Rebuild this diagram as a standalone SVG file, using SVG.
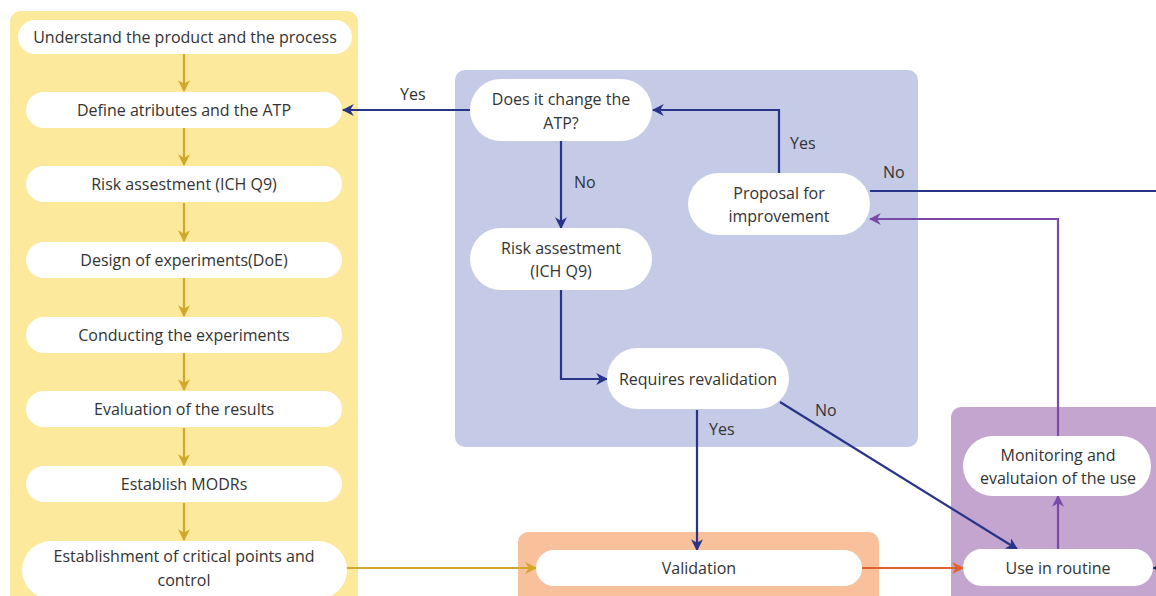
<svg xmlns="http://www.w3.org/2000/svg" width="1156" height="596" viewBox="0 0 1156 596">
<defs>
<style>
.node{fill:#ffffff}
.t{font-family:"Open Sans","Liberation Sans",sans-serif;font-size:16px;fill:#333333;text-anchor:middle}
.lbl{font-family:"Open Sans","Liberation Sans",sans-serif;font-size:16px;fill:#333333}
.gold{stroke:#D4A72C;stroke-width:2.2;fill:none}
.navy{stroke:#28338A;stroke-width:2.2;fill:none}
.purple{stroke:#7A4AAA;stroke-width:2.2;fill:none}
.orange{stroke:#E0612B;stroke-width:2.2;fill:none}
</style>
<marker id="aNavy" viewBox="0 0 10 10" refX="9" refY="5" markerWidth="12" markerHeight="12" orient="auto" markerUnits="userSpaceOnUse"><path d="M0,0 L10,5 L0,10 L3,5 z" fill="#28338A"/></marker>
<marker id="aPurple" viewBox="0 0 10 10" refX="9" refY="5" markerWidth="12" markerHeight="12" orient="auto" markerUnits="userSpaceOnUse"><path d="M0,0 L10,5 L0,10 L3,5 z" fill="#7A4AAA"/></marker>
<marker id="aOrange" viewBox="0 0 10 10" refX="9" refY="5" markerWidth="12" markerHeight="12" orient="auto" markerUnits="userSpaceOnUse"><path d="M0,0 L10,5 L0,10 L3,5 z" fill="#E0612B"/></marker>
<marker id="aGold" viewBox="0 0 10 10" refX="9" refY="5" markerWidth="12" markerHeight="12" orient="auto" markerUnits="userSpaceOnUse"><path d="M0,0 L10,5 L0,10 L3,5 z" fill="#D4A72C"/></marker>
</defs>
<rect width="1156" height="596" fill="#ffffff"/>
<g id="panels">
<rect x="10" y="11" width="348" height="600" rx="11" fill="#FCE99C"/>
<rect x="455" y="70" width="463" height="377" rx="10" fill="#C5CAE6"/>
<rect x="518" y="532" width="361" height="80" rx="10" fill="#F9C19B"/>
<rect x="951" y="407" width="220" height="200" rx="10" fill="#C3A5D0"/>
</g>
<g id="connectors">
<line class="gold" x1="184" y1="54" x2="184" y2="91" marker-end="url(#aGold)"/>
<line class="gold" x1="184" y1="128" x2="184" y2="165" marker-end="url(#aGold)"/>
<line class="gold" x1="184" y1="203" x2="184" y2="241" marker-end="url(#aGold)"/>
<line class="gold" x1="184" y1="278" x2="184" y2="316" marker-end="url(#aGold)"/>
<line class="gold" x1="184" y1="353" x2="184" y2="390" marker-end="url(#aGold)"/>
<line class="gold" x1="184" y1="428" x2="184" y2="465" marker-end="url(#aGold)"/>
<line class="gold" x1="184" y1="503" x2="184" y2="540" marker-end="url(#aGold)"/>
<line class="gold" x1="347" y1="568" x2="536" y2="568" marker-end="url(#aGold)"/>
<line class="navy" x1="470" y1="110" x2="343" y2="110" marker-end="url(#aNavy)"/>
<polyline class="navy" points="779,173 779,110 653,110" marker-end="url(#aNavy)"/>
<line class="navy" x1="561" y1="141" x2="561" y2="228" marker-end="url(#aNavy)"/>
<polyline class="navy" points="561,290 561,379 607,379" marker-end="url(#aNavy)"/>
<line class="navy" x1="697" y1="410" x2="697" y2="550" marker-end="url(#aNavy)"/>
<line class="navy" x1="780" y1="402" x2="1017" y2="549" marker-end="url(#aNavy)"/>
<polyline class="navy" points="870,191 1175,191 1175,568 1153,568" marker-end="url(#aNavy)"/>
<line class="orange" x1="862" y1="568" x2="963" y2="568" marker-end="url(#aOrange)"/>
<line class="purple" x1="1058" y1="549" x2="1058" y2="496" marker-end="url(#aPurple)"/>
<polyline class="purple" points="1058,436 1058,219 870,219" marker-end="url(#aPurple)"/>
</g>
<g id="labels">
<text class="lbl" x="400" y="100">Yes</text>
<text class="lbl" x="790" y="149">Yes</text>
<text class="lbl" x="574" y="188">No</text>
<text class="lbl" x="883" y="178">No</text>
<text class="lbl" x="709" y="435">Yes</text>
<text class="lbl" x="815" y="416">No</text>
</g>
<g id="n1"><rect class="node" x="18" y="20" width="334" height="34" rx="17"/><text class="t" x="185" y="43">Understand the product and the process</text></g>
<g id="n2"><rect class="node" x="26" y="92" width="316" height="36" rx="18"/><text class="t" x="184" y="116">Define atributes and the ATP</text></g>
<g id="n3"><rect class="node" x="26" y="166" width="316" height="36" rx="18"/><text class="t" x="184" y="190">Risk assestment (ICH Q9)</text></g>
<g id="n4"><rect class="node" x="26" y="242" width="316" height="36" rx="18"/><text class="t" x="184" y="266">Design of experiments(DoE)</text></g>
<g id="n5"><rect class="node" x="26" y="317" width="316" height="36" rx="18"/><text class="t" x="184" y="341">Conducting the experiments</text></g>
<g id="n6"><rect class="node" x="26" y="391" width="316" height="36" rx="18"/><text class="t" x="184" y="415">Evaluation of the results</text></g>
<g id="n7"><rect class="node" x="26" y="466" width="316" height="36" rx="18"/><text class="t" x="184" y="490">Establish MODRs</text></g>
<g id="n8"><rect class="node" x="22" y="541" width="325" height="58" rx="29"/><text class="t" x="184" y="562">Establishment of critical points and</text><text class="t" x="184" y="586">control</text></g>
<g id="n9"><rect class="node" x="470" y="79" width="182" height="62" rx="31"/><text class="t" x="561" y="105">Does it change the</text><text class="t" x="561" y="129">ATP?</text></g>
<g id="n10"><rect class="node" x="470" y="228" width="182" height="62" rx="31"/><text class="t" x="561" y="254">Risk assestment</text><text class="t" x="561" y="277">(ICH Q9)</text></g>
<g id="n11"><rect class="node" x="688" y="173" width="182" height="62" rx="31"/><text class="t" x="779" y="199">Proposal for</text><text class="t" x="779" y="222">improvement</text></g>
<g id="n12"><rect class="node" x="607" y="348" width="182" height="61" rx="30.5"/><text class="t" x="698" y="385">Requires revalidation</text></g>
<g id="n13"><rect class="node" x="536" y="550" width="326" height="36" rx="18"/><text class="t" x="699" y="574">Validation</text></g>
<g id="n14"><rect class="node" x="963" y="436" width="188" height="60" rx="30"/><text class="t" x="1058" y="461">Monitoring and</text><text class="t" x="1058" y="484">evalutaion of the use</text></g>
<g id="n15"><rect class="node" x="963" y="549" width="190" height="37" rx="18.5"/><text class="t" x="1058" y="574">Use in routine</text></g>
</svg>
